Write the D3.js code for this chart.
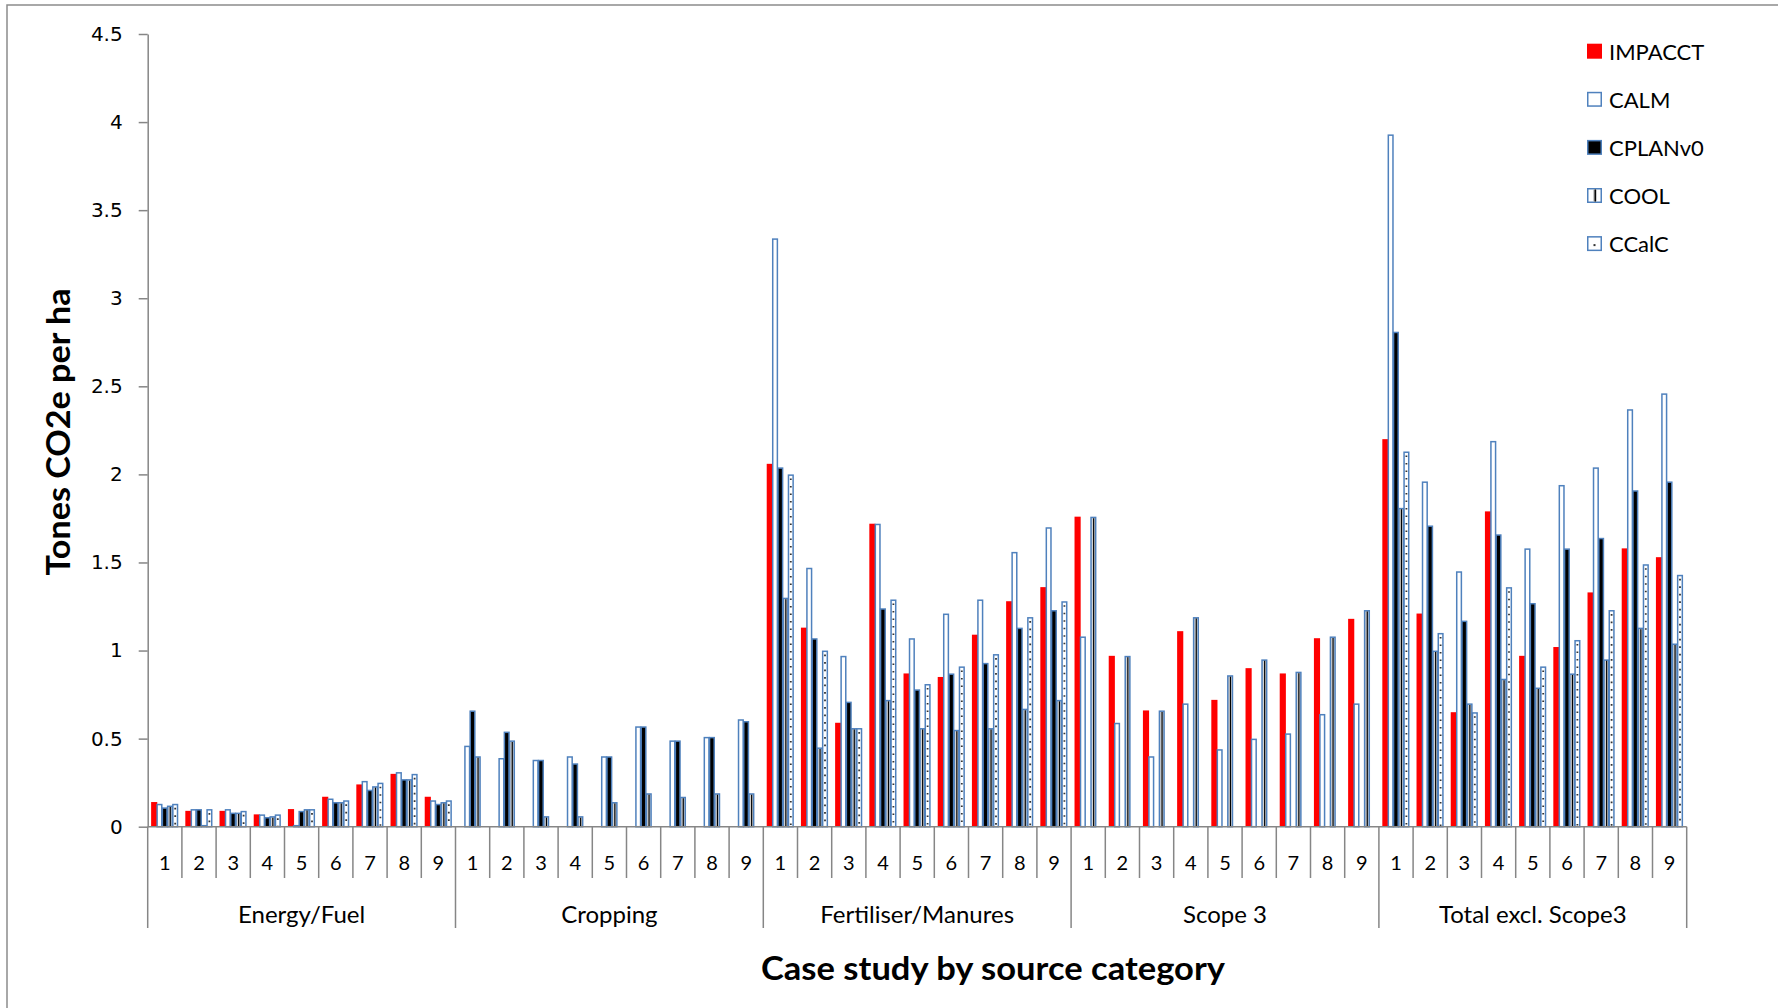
<!DOCTYPE html>
<html><head><meta charset="utf-8">
<script src="https://cdn.jsdelivr.net/npm/d3@7"></script>
<style>body{margin:0;background:#fff;} svg{display:block;}</style>
</head><body>
<svg id="chart" width="1778" height="1008"></svg>
<script>
// ---------------- DATA ----------------
const groups = ["Energy/Fuel", "Cropping", "Fertiliser/Manures", "Scope 3", "Total excl. Scope3"];
const cases = ["1", "2", "3", "4", "5", "6", "7", "8", "9"];
const seriesNames = ["IMPACCT", "CALM", "CPLANv0", "COOL", "CCalC"];
const yTicks = [0, 0.5, 1, 1.5, 2, 2.5, 3, 3.5, 4, 4.5];

// 9 case values for each group, in group order (null = no bar)
const IMPACCT = [
  0.14, 0.09, 0.09, 0.07, 0.10, 0.17, 0.24, 0.30, 0.17,
  null, null, null, null, null, null, null, null, null,
  2.06, 1.13, 0.59, 1.72, 0.87, 0.85, 1.09, 1.28, 1.36,
  1.76, 0.97, 0.66, 1.11, 0.72, 0.90, 0.87, 1.07, 1.18,
  2.20, 1.21, 0.65, 1.79, 0.97, 1.02, 1.33, 1.58, 1.53
];
const CALM = [
  0.13, 0.10, 0.10, 0.07, 0.01, 0.16, 0.26, 0.31, 0.15,
  0.46, 0.39, 0.38, 0.40, 0.40, 0.57, 0.49, 0.51, 0.61,
  3.34, 1.47, 0.97, 1.72, 1.07, 1.21, 1.29, 1.56, 1.70,
  1.08, 0.59, 0.40, 0.70, 0.44, 0.50, 0.53, 0.64, 0.70,
  3.93, 1.96, 1.45, 2.19, 1.58, 1.94, 2.04, 2.37, 2.46
];
const CPLANv0 = [
  0.11, 0.10, 0.08, 0.055, 0.09, 0.14, 0.21, 0.27, 0.13,
  0.66, 0.54, 0.38, 0.36, 0.40, 0.57, 0.49, 0.51, 0.60,
  2.04, 1.07, 0.71, 1.24, 0.78, 0.87, 0.93, 1.13, 1.23,
  null, null, null, null, null, null, null, null, null,
  2.81, 1.71, 1.17, 1.66, 1.27, 1.58, 1.64, 1.91, 1.96
];
const COOL = [
  0.12, 0.01, 0.08, 0.06, 0.10, 0.14, 0.23, 0.27, 0.14,
  0.40, 0.49, 0.06, 0.06, 0.14, 0.19, 0.17, 0.19, 0.19,
  1.30, 0.45, 0.56, 0.72, 0.56, 0.55, 0.56, 0.67, 0.72,
  1.76, 0.97, 0.66, 1.19, 0.86, 0.95, 0.88, 1.08, 1.23,
  1.81, 1.00, 0.70, 0.84, 0.79, 0.87, 0.95, 1.13, 1.04
];
const CCalC = [
  0.13, 0.10, 0.09, 0.07, 0.10, 0.15, 0.25, 0.30, 0.15,
  null, null, null, null, null, null, null, null, null,
  2.00, 1.00, 0.56, 1.29, 0.81, 0.91, 0.98, 1.19, 1.28,
  null, null, null, null, null, null, null, null, null,
  2.13, 1.10, 0.65, 1.36, 0.91, 1.06, 1.23, 1.49, 1.43
];
const seriesValues = [IMPACCT, CALM, CPLANv0, COOL, CCalC];

// ---------------- LAYOUT / STYLE ----------------
const BLUE = "#4F81BD", AXIS = "#868686";
const styles = {
  IMPACCT: {fill: "#FF0000", stroke: "none"},
  CALM: {fill: "#FFFFFF", stroke: BLUE},
  CPLANv0: {fill: "#000000", stroke: BLUE},
  COOL: {fill: "#D2D2D2", stroke: BLUE},
  CCalC: {fill: "#FFFFFF", stroke: BLUE}
};
const svg = d3.select("#chart");
const xLeft = 147.7, xRight = 1686.7, yBase = 826.7, yTop = 34;

svg.append("rect").attr("width", 1778).attr("height", 1008).attr("fill", "#fff");
// outer frame
svg.append("path").attr("d", "M7,1010V5H1780").attr("fill", "none").attr("stroke", "#8c8c8c").attr("stroke-width", 1.5);

const xGroup = d3.scaleBand().domain(groups).range([xLeft, xRight]).padding(0);
const xCase = d3.scaleBand().domain(cases).range([0, xGroup.bandwidth()]).padding(0);
const y = d3.scaleLinear().domain([0, 4.5]).range([yBase, yTop]);
const C = xCase.bandwidth();
const barW = 0.18 * C, step = 0.1535 * C, off = 0.1 * C;
const sw = 1.5;

// y axis
const yAxis = d3.axisLeft(y).tickValues(yTicks).tickSize(9).tickSizeOuter(0).tickPadding(16)
  .tickFormat(d => String(d));
const gy = svg.append("g").attr("transform", `translate(${xLeft},0)`).call(yAxis);
gy.select(".domain").attr("stroke", AXIS).attr("stroke-width", 1.5);
gy.selectAll(".tick line").attr("stroke", AXIS).attr("stroke-width", 1.5);
gy.selectAll(".tick text").attr("font-family", "DejaVu Sans").attr("font-size", 20).attr("fill", "#000");

// bars
seriesNames.forEach((name, si) => {
  const vals = seriesValues[si];
  const data = [];
  groups.forEach((g, gi) => cases.forEach((c, ci) => {
    const v = vals[gi * 9 + ci];
    if (v != null) data.push({g, c, v});
  }));
  const st = styles[name];
  const gS = svg.append("g").attr("class", "series-" + name);
  const bx = d => xGroup(d.g) + xCase(d.c) + off + si * step;
  gS.selectAll("rect").data(data).join("rect")
    .attr("x", d => st.stroke === "none" ? bx(d) : bx(d) + sw / 2)
    .attr("width", st.stroke === "none" ? barW : barW - sw)
    .attr("y", d => st.stroke === "none" ? y(d.v) : y(d.v) + sw / 2)
    .attr("height", d => Math.max(0, y(0) - y(d.v) - (st.stroke === "none" ? 0 : sw / 2)))
    .attr("fill", st.fill)
    .attr("stroke", st.stroke)
    .attr("stroke-width", sw);
  if (name === "COOL") {
    gS.selectAll("line").data(data).join("line")
      .attr("x1", d => bx(d) + barW * 0.55).attr("x2", d => bx(d) + barW * 0.55)
      .attr("y1", d => y(d.v) + sw).attr("y2", y(0))
      .attr("stroke", "#000").attr("stroke-width", 1.2);
  }
  if (name === "CCalC") {
    gS.selectAll("line").data(data).join("line")
      .attr("x1", d => bx(d) + barW / 2).attr("x2", d => bx(d) + barW / 2)
      .attr("y1", d => y(d.v) + 4).attr("y2", y(0))
      .attr("stroke", "#333").attr("stroke-width", 1.8).attr("stroke-dasharray", "1.6,5.9");
  }
});

// x axis line + category dividers
svg.append("line").attr("x1", xLeft).attr("x2", xRight).attr("y1", yBase).attr("y2", yBase)
  .attr("stroke", AXIS).attr("stroke-width", 1.5);
const dividers = [];
groups.forEach(g => cases.forEach((c, ci) => dividers.push({x: xGroup(g) + xCase(c), long: ci === 0})));
dividers.push({x: xRight, long: true});
svg.append("g").selectAll("line").data(dividers).join("line")
  .attr("x1", d => d.x).attr("x2", d => d.x)
  .attr("y1", yBase).attr("y2", d => d.long ? 928 : 878)
  .attr("stroke", AXIS).attr("stroke-width", 1.5);

// case numbers
const caseLabels = [];
groups.forEach(g => cases.forEach(c => caseLabels.push({g, c})));
svg.append("g").selectAll("text").data(caseLabels).join("text")
  .attr("x", d => xGroup(d.g) + xCase(d.c) + C / 2).attr("y", 862)
  .attr("text-anchor", "middle").attr("dominant-baseline", "central")
  .attr("font-family", "Lato").attr("font-size", 20).attr("fill", "#000")
  .text(d => d.c);

// group labels
svg.append("g").selectAll("text").data(groups).join("text")
  .attr("x", d => xGroup(d) + xGroup.bandwidth() / 2).attr("y", 913)
  .attr("text-anchor", "middle").attr("dominant-baseline", "central")
  .attr("font-family", "Lato").attr("font-size", 24).attr("fill", "#000")
  .text(d => d);

// axis titles
svg.append("text").attr("x", 993).attr("y", 967)
  .attr("text-anchor", "middle").attr("dominant-baseline", "central")
  .attr("font-family", "Lato").attr("font-weight", "bold").attr("font-size", 33)
  .attr("textLength", 464).attr("lengthAdjust", "spacingAndGlyphs")
  .attr("fill", "#000").text("Case study by source category");
svg.append("text").attr("transform", "translate(57,432) rotate(-90)")
  .attr("text-anchor", "middle").attr("dominant-baseline", "central")
  .attr("font-family", "Lato").attr("font-weight", "bold").attr("font-size", 33)
  .attr("textLength", 287).attr("lengthAdjust", "spacingAndGlyphs")
  .attr("fill", "#000").text("Tones CO2e per ha");

// legend
const lg = svg.append("g");
seriesNames.forEach((name, i) => {
  const cy = 51.2 + i * 48.1;
  const st = styles[name];
  const sx = 1587, s = 15;
  if (st.stroke === "none") {
    lg.append("rect").attr("x", sx).attr("y", cy - s / 2).attr("width", s).attr("height", s).attr("fill", st.fill);
  } else {
    lg.append("rect").attr("x", sx + 0.75).attr("y", cy - s / 2 + 0.75).attr("width", s - 1.5).attr("height", s - 1.5)
      .attr("fill", name === "COOL" ? "#fff" : st.fill).attr("stroke", st.stroke).attr("stroke-width", 1.5);
  }
  if (name === "COOL") {
    lg.append("rect").attr("x", sx + 6.5).attr("y", cy - s / 2 + 1.5).attr("width", 3).attr("height", s - 3).attr("fill", "#9a9a9a");
    lg.append("line").attr("x1", sx + 8.3).attr("x2", sx + 8.3).attr("y1", cy - s / 2 + 1.5).attr("y2", cy + s / 2 - 1.5)
      .attr("stroke", "#000").attr("stroke-width", 1.3);
  }
  if (name === "CCalC") {
    lg.append("rect").attr("x", sx + 6.5).attr("y", cy + 0.5).attr("width", 2).attr("height", 2).attr("fill", "#333");
  }
  lg.append("text").attr("x", 1609).attr("y", cy).attr("dominant-baseline", "central")
    .attr("font-family", "Lato").attr("font-size", 22).attr("fill", "#000").text(name);
});
</script>
</body></html>
